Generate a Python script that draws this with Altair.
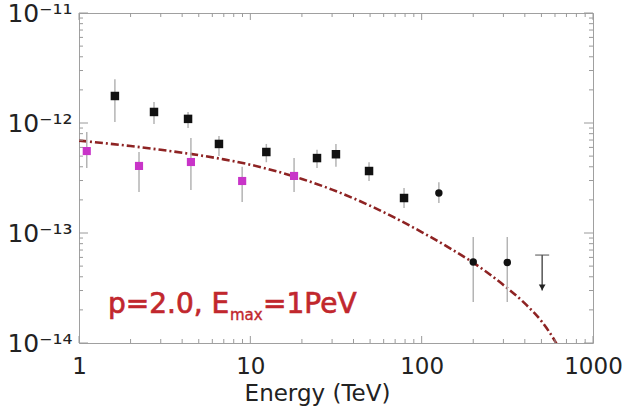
import json
import altair as alt
import pandas as pd

# ---------------- data ----------------
black_E = [1.62, 2.74, 4.33, 6.56, 12.4, 24.5, 31.6, 49.3, 78.9]
black_F = [1.76e-12, 1.26e-12, 1.09e-12, 6.45e-13, 5.45e-13, 4.8e-13, 5.2e-13, 3.66e-13, 2.08e-13]
black_hi = [2.5e-12, 1.55e-12, 1.26e-12, 7.6e-13, 6.45e-13, 5.7e-13, 6.45e-13, 4.4e-13, 2.57e-13]
black_lo = [1.02e-12, 9.8e-13, 9.0e-13, 5.0e-13, 4.4e-13, 3.9e-13, 4.0e-13, 2.97e-13, 1.69e-13]

circle_E = [126, 200, 316]
circle_F = [2.31e-13, 5.45e-14, 5.4e-14]
circle_hi = [2.9e-13, 9.2e-14, 9.2e-14]
circle_lo = [1.87e-13, 2.36e-14, 2.36e-14]

ul_E = [505]
ul_F = [6.3e-14]
ul_end = [3.0e-14]
ul_head = [3.2e-14]

magenta_E = [1.11, 2.24, 4.5, 8.96, 18.0]
magenta_F = [5.56e-13, 4.07e-13, 4.42e-13, 2.97e-13, 3.3e-13]
magenta_hi = [8.3e-13, 5.45e-13, 7.3e-13, 4.0e-13, 4.8e-13]
magenta_lo = [3.9e-13, 2.36e-13, 2.46e-13, 1.91e-13, 2.36e-13]

curve_E = [1, 2, 3, 5, 7, 10, 20, 30, 50, 70, 100, 150, 200, 300, 400, 500, 600, 700]
curve_F = [6.92e-13, 6.17e-13, 5.71e-13, 5.1e-13, 4.67e-13, 4.18e-13, 3.1e-13, 2.48e-13, 1.77e-13,
           1.37e-13, 1.02e-13, 7.1e-14, 5.37e-14, 3.37e-14, 2.29e-14, 1.58e-14, 1.04e-14, 6.5e-15]

x_major = [1, 10, 100, 1000]
x_minor = [2, 3, 4, 5, 6, 7, 8, 9, 20, 30, 40, 50, 60, 70, 80, 90, 200, 300, 400, 500, 600, 700, 800, 900]
y_major = [1e-14, 1e-13, 1e-12, 1e-11]
y_tick_labels = ["10⁻¹⁴", "10⁻¹³", "10⁻¹²", "10⁻¹¹"]
y_minor_mult = [2, 3, 4, 5, 6, 7, 8, 9]
y_minor_exp = [-14, -13, -12]

x_title = "Energy (TeV)"
ann_main = ["p=2.0, E", "=1PeV"]
ann_main_E = [1.476, 11.86]
ann_main_F = [1.875e-14, 1.875e-14]
ann_sub = ["max"]
ann_sub_E = [7.61]
ann_sub_F = [1.62e-14]

# ---------------- chart ----------------
W, H = 514, 330
FONT = "DejaVu Sans"
TICK = "#9a9a9a"
ERR = "#b4b4b4"
RED = "#c1272d"

xs = alt.Scale(type="log", domain=[1, 1000], nice=False)
ys = alt.Scale(type="log", domain=[1e-14, 1e-11], nice=False)

label_expr = json.dumps(y_tick_labels, ensure_ascii=False) + "[round(log(datum.value)/LN10)+14]"

x_axis = alt.Axis(values=x_major, format="d", ticks=False, domain=False, grid=False,
                  labelFlush=False, labelOverlap=False,
                  labelFont=FONT, labelFontSize=23, labelColor="#222", labelPadding=12,
                  title=x_title, titleFont=FONT, titleFontSize=23, titleFontWeight="normal",
                  titleColor="#222", titleY=57, titleX=238, titleBaseline="alphabetic")
y_axis = alt.Axis(values=y_major, labelExpr=label_expr, ticks=False, domain=False, grid=False,
                  labelFlush=False, labelOverlap=False,
                  labelFont=FONT, labelFontSize=25, labelColor="#222", labelPadding=7,
                  labelBaseline="middle", title="")


def X(field):
    return alt.X(field, type="quantitative", scale=xs, axis=x_axis)


def Y(field):
    return alt.Y(field, type="quantitative", scale=ys, axis=y_axis)


black = pd.DataFrame(dict(E=black_E, F=black_F, hi=black_hi, lo=black_lo))
circ = pd.DataFrame(dict(E=circle_E, F=circle_F, hi=circle_hi, lo=circle_lo))
mag = pd.DataFrame(dict(E=magenta_E, F=magenta_F, hi=magenta_hi, lo=magenta_lo))
ul = pd.DataFrame(dict(E=ul_E, F=ul_F, end=ul_end, head=ul_head))
curve = pd.DataFrame(dict(E=curve_E, F=curve_F))

xmaj = pd.DataFrame(dict(E=x_major))
xmin = pd.DataFrame(dict(E=x_minor))
ymaj = pd.DataFrame(dict(F=y_major))
ymin = pd.DataFrame(dict(F=[m * 10.0 ** e for e in y_minor_exp for m in y_minor_mult]))

layers = []
# model curve (first, carries the axes)
layers.append(alt.Chart(curve).mark_line(color="#8e2323", strokeWidth=2.6, strokeDash=[8, 3, 2, 3],
                                         interpolate="monotone", clip=True).encode(
    x=X("E"), y=Y("F")))

# inward ticks on all four sides
for df, L in ((xmaj, 7), (xmin, 4)):
    layers.append(alt.Chart(df).mark_rule(color=TICK, strokeWidth=1).encode(
        x=X("E"), y=alt.value(H - L), y2=alt.value(H)))
    layers.append(alt.Chart(df).mark_rule(color=TICK, strokeWidth=1).encode(
        x=X("E"), y=alt.value(0), y2=alt.value(L)))
for df, L in ((ymaj, 9), (ymin, 4)):
    layers.append(alt.Chart(df).mark_rule(color=TICK, strokeWidth=1).encode(
        y=Y("F"), x=alt.value(0), x2=alt.value(L)))
    layers.append(alt.Chart(df).mark_rule(color=TICK, strokeWidth=1).encode(
        y=Y("F"), x=alt.value(W - L), x2=alt.value(W)))

# error bars
for df in (black, circ, mag):
    layers.append(alt.Chart(df).mark_rule(color=ERR, strokeWidth=1.5).encode(
        x=X("E"), y=Y("lo"), y2=alt.Y2("hi")))

# upper limit
layers.append(alt.Chart(ul).mark_rule(color="#555", strokeWidth=1.5).encode(
    x=X("E"), y=Y("F"), y2=alt.Y2("end")))
layers.append(alt.Chart(ul).mark_tick(color="#555", orient="horizontal", size=14, thickness=1.5).encode(
    x=X("E"), y=Y("F")))
layers.append(alt.Chart(ul).mark_point(shape="triangle-down", filled=True, color="#222", size=45, opacity=1).encode(
    x=X("E"), y=Y("head")))

# markers
layers.append(alt.Chart(black).mark_point(shape="square", filled=True, color="#111", size=72, opacity=1).encode(
    x=X("E"), y=Y("F")))
layers.append(alt.Chart(circ).mark_point(shape="circle", filled=True, color="#111", size=55, opacity=1).encode(
    x=X("E"), y=Y("F")))
layers.append(alt.Chart(mag).mark_point(shape="square", filled=True, color="#c834c8", size=66, opacity=1).encode(
    x=X("E"), y=Y("F")))

# annotation
ann1 = pd.DataFrame(dict(E=ann_main_E, F=ann_main_F, t=ann_main))
ann2 = pd.DataFrame(dict(E=ann_sub_E, F=ann_sub_F, t=ann_sub))
layers.append(alt.Chart(ann1).mark_text(font=FONT, fontSize=28, color=RED, stroke=RED, strokeWidth=0.7,
                                        align="left", baseline="alphabetic").encode(
    x=X("E"), y=Y("F"), text="t:N"))
layers.append(alt.Chart(ann2).mark_text(font=FONT, fontSize=15, color=RED, stroke=RED, strokeWidth=0.4,
                                        align="left", baseline="alphabetic").encode(
    x=X("E"), y=Y("F"), text="t:N"))

chart = alt.layer(*layers).properties(
    width=W, height=H,
    autosize=alt.AutoSizeParams(type="none"),
    padding={"left": 79, "top": 13, "right": 48, "bottom": 76},
    background="white",
).configure_view(stroke="#a0a0a0", strokeWidth=1)

chart.save("out.html", embed_options={"renderer": "svg", "actions": False})
